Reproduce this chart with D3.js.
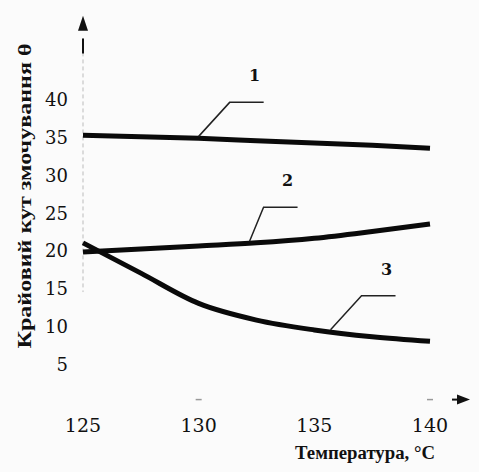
<!DOCTYPE html>
<html>
<head>
<meta charset="utf-8">
<script src="https://cdn.jsdelivr.net/npm/d3@7"></script>
<style>
  body { margin: 0; background: #fbfbfb; }
  svg { display: block; }
</style>
</head>
<body>
<script>
// data
var temps = [125, 127.5, 130, 132.5, 135, 137.5, 140]
var curve1 = [35.2, 35.0, 34.8, 34.5, 34.2, 33.9, 33.5]
var curve2 = [19.8, 20.2, 20.6, 21.0, 21.6, 22.5, 23.5]
var curve3 = [21.0, 17.0, 13.0, 10.8, 9.5, 8.6, 8.0]
var curveNames = ["1", "2", "3"]
var leaderAt = [130, 132.2, 135.7]   // temperature where each leader touches its curve
var xTicks = [125, 130, 135, 140]
var yTicks = [5, 10, 15, 20, 25, 30, 35, 40]

var W = 479, H = 472
var serif = "'Liberation Serif', 'DejaVu Serif', serif"
var digits = "'DejaVu Serif', serif"   // Liberation digits here come out sans-like

var svg = d3.select("body").append("svg")
  .attr("width", W)
  .attr("height", H)

var x = d3.scaleLinear().domain([125, 140]).range([83, 430])
var y = d3.scaleLinear().domain([5, 40]).range([364, 99])

// y axis: faint dashed line with arrow on top
svg.append("line")
  .attr("x1", x(125)).attr("x2", x(125))
  .attr("y1", y(48)).attr("y2", y(14.5))
  .attr("stroke", "#bbb").attr("stroke-width", 1)
  .attr("stroke-dasharray", "4,3")
svg.append("path")
  .attr("d", "M" + x(125) + "," + y(51) + " l-5,15 l10,0 z")
  .attr("fill", "#111")
svg.append("line")
  .attr("x1", x(125)).attr("x2", x(125))
  .attr("y1", y(48)).attr("y2", y(46))
  .attr("stroke", "#111").attr("stroke-width", 2)

// x axis: only an arrow on the right and a couple of faint marks
var axisY = y(0.3)
svg.append("path")
  .attr("d", "M" + (x(140) + 40) + "," + axisY + " l-13,-5 l0,10 z")
  .attr("fill", "#111")
svg.append("line")
  .attr("x1", x(140) + 22).attr("x2", x(140) + 30)
  .attr("y1", axisY).attr("y2", axisY)
  .attr("stroke", "#111").attr("stroke-width", 2)
svg.selectAll(".xmark")
  .data([130, 140])
  .enter().append("line")
  .attr("x1", function(d) { return x(d) - 3 })
  .attr("x2", function(d) { return x(d) + 3 })
  .attr("y1", axisY).attr("y2", axisY)
  .attr("stroke", "#999").attr("stroke-width", 1.5)

// tick labels
svg.selectAll(".ylab")
  .data(yTicks)
  .enter().append("text")
  .attr("x", 68)
  .attr("y", function(d) { return y(d) + 7 })
  .attr("text-anchor", "end")
  .style("font-family", digits)
  .style("font-size", "18px")
  .style("fill", "#111")
  .text(function(d) { return String(d) })

svg.selectAll(".xlab")
  .data(xTicks)
  .enter().append("text")
  .attr("x", function(d) { return x(d) })
  .attr("y", 432)
  .attr("text-anchor", "middle")
  .style("font-family", digits)
  .style("font-size", "19px")
  .style("fill", "#111")
  .text(function(d) { return String(d) })

// axis titles
svg.append("text")
  .attr("transform", "translate(31," + 196 + ") rotate(-90)")
  .attr("text-anchor", "middle")
  .attr("textLength", 305)
  .attr("lengthAdjust", "spacingAndGlyphs")
  .style("font-family", serif)
  .style("font-weight", "bold")
  .style("font-size", "19px")
  .style("fill", "#111")
  .text("Крайовий кут змочування θ")

svg.append("text")
  .attr("x", 365)
  .attr("y", 459)
  .attr("text-anchor", "middle")
  .attr("textLength", 140)
  .attr("lengthAdjust", "spacingAndGlyphs")
  .style("font-family", serif)
  .style("font-weight", "bold")
  .style("font-size", "18px")
  .style("fill", "#111")
  .text("Температура, °С")

// curves
var series = [curve1, curve2, curve3]
var line = d3.line()
  .x(function(d, i) { return x(temps[i]) })
  .y(function(d) { return y(d) })
  .curve(d3.curveMonotoneX)

svg.selectAll(".curve")
  .data(series)
  .enter().append("path")
  .attr("class", "curve")
  .attr("d", line)
  .attr("fill", "none")
  .attr("stroke", "#0a0a0a")
  .attr("stroke-width", 5)
  .attr("stroke-linecap", "butt")

// leaders with numbers
function valueAt(vals, t) {
  return d3.scaleLinear().domain(temps).range(vals)(t)
}
var leaders = svg.selectAll(".leader")
  .data(series)
  .enter().append("g")

leaders.append("path")
  .attr("d", function(d, i) {
    var px = x(leaderAt[i]), py = y(valueAt(d, leaderAt[i])) - 2
    var ex = px + (i == 1 ? 14 : 31), ey = py - 34
    return "M" + px + "," + py + " L" + ex + "," + ey + " l34,0"
  })
  .attr("fill", "none")
  .attr("stroke", "#222")
  .attr("stroke-width", 1.5)

leaders.append("text")
  .attr("x", function(d, i) { return x(leaderAt[i]) + (i == 1 ? 38 : 56) })
  .attr("y", function(d, i) { return y(valueAt(d, leaderAt[i])) - 57 })
  .attr("text-anchor", "middle")
  .style("font-family", digits)
  .style("font-weight", "bold")
  .style("font-size", "16px")
  .style("fill", "#111")
  .text(function(d, i) { return curveNames[i] })
</script>
</body>
</html>
